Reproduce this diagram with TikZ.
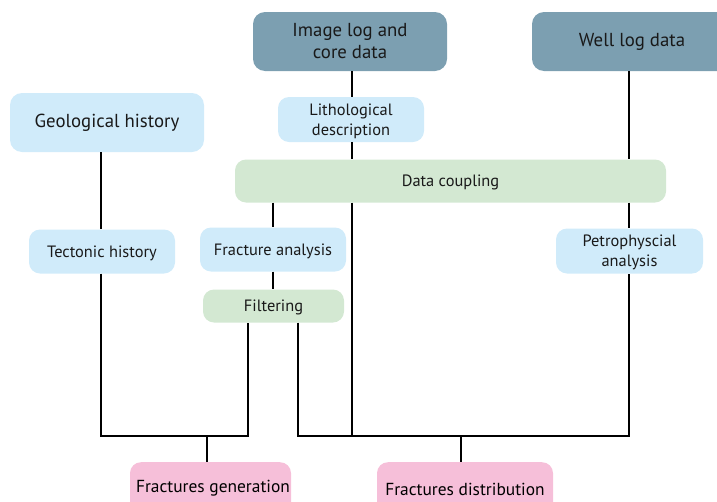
\documentclass[tikz,border=0pt]{standalone}
\usepackage{fontspec}
\setmainfont{PT Sans}
\definecolor{slate}{HTML}{7C9FB1}
\definecolor{skyfill}{HTML}{D0EBFA}
\definecolor{sagefill}{HTML}{D3E8D2}
\definecolor{rosefill}{HTML}{F6BFD9}
\tikzset{
  box/.style={draw=none, rounded corners=12pt, align=center, inner sep=0pt, text=black!90},
  bigbox/.style={box, font=\fontsize{18.8}{22}\selectfont},
  smallbox/.style={box, rounded corners=11pt, text depth=0pt, font=\fontsize{16.4}{20}\selectfont},
  source/.style={bigbox, fill=slate},
  info/.style={fill=skyfill},
  step2/.style={fill=sagefill},
  result/.style={fill=rosefill},
  link/.style={line width=2pt, black}
}
\begin{document}
\begin{tikzpicture}[x=1pt,y=-1pt]
\useasboundingbox (0,0) rectangle (717,501);
\clip (0,0) rectangle (717,501);
% sources
\node[source, minimum width=194pt, minimum height=59pt] (img) at (350,41.5) {Image log and\\core data};
\node[source, minimum width=200pt, minimum height=59pt] (well) at (632,41.5) {Well log data};
\node[bigbox, info, minimum width=194pt, minimum height=59pt] (geo) at (107,122.5) {Geological history};
% intermediate steps
\node[smallbox, info, minimum width=146pt, minimum height=45pt] (litho) at (351,119.5) {Lithological\\description};
\node[smallbox, step2, minimum width=431pt, minimum height=43pt] (coup) at (450.5,181) {Data coupling};
\node[smallbox, info, minimum width=146pt, minimum height=44pt] (tect) at (102,251.5) {Tectonic history};
\node[smallbox, info, minimum width=146pt, minimum height=44pt] (frac) at (273,249.5) {Fracture analysis};
\node[smallbox, info, minimum width=147pt, minimum height=45pt] (petro) at (629.5,251) {Petrophyscial\\analysis};
\node[smallbox, step2, minimum width=141pt, minimum height=33pt] (filt) at (273.5,306) {Filtering};
% outcomes
\node[smallbox, result, anchor=north, minimum width=161pt, minimum height=58pt] (gen) at (210.5,462) {};
\node[smallbox, result, anchor=north, minimum width=176pt, minimum height=58pt] (dist) at (465,462) {};
\node[font=\fontsize{17.4}{20}\selectfont] at (213,488) {Fractures generation};
\node[font=\fontsize{17.4}{20}\selectfont] at (465,489) {Fractures distribution};
% junction points
\coordinate (jl) at (207,436);
\coordinate (jr) at (461,436);
% connectors
\draw[link] (geo.south -| 101,0) -- (tect.north -| 101,0);
\draw[link] (img.south -| 352,0) -- (litho.north -| 352,0);
\draw[link] (litho.south -| 352,0) -- (coup.north -| 352,0);
\draw[link] (well.south -| 629,0) -- (coup.north -| 629,0);
\draw[link] (coup.south -| 273,0) -- (frac.north -| 273,0);
\draw[link] (frac.south -| 273,0) -- (filt.north -| 273,0);
\draw[link] (coup.south -| 629,0) -- (petro.north -| 629,0);
% left bundle to generation
\draw[link] (tect.south -| 101,0) |- (jl) -| (filt.south -| 248,0);
\draw[link] (jl) -- (gen.north -| jl);
% right bundle to distribution
\draw[link] (filt.south -| 298,0) |- (jr) -| (petro.south -| 629,0);
\draw[link] (coup.south -| 352,0) -- (jr -| 352,0);
\draw[link] (jr) -- (dist.north -| jr);
\end{tikzpicture}
\end{document}
